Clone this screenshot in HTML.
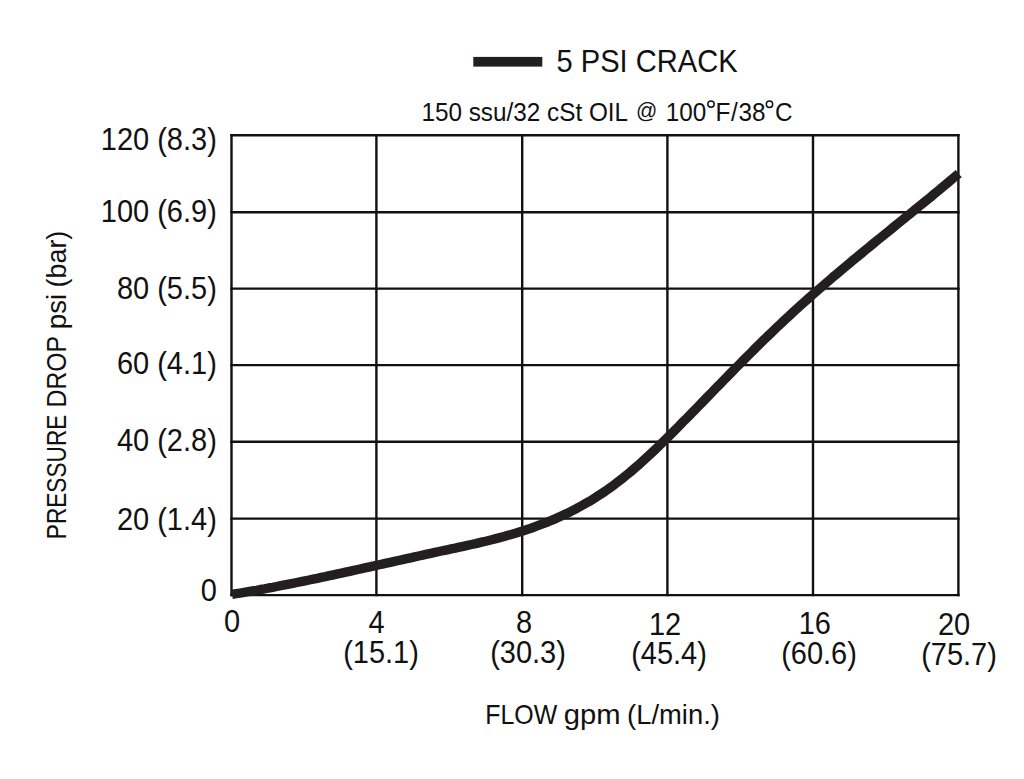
<!DOCTYPE html>
<html><head><meta charset="utf-8"><style>
html,body{margin:0;padding:0;background:#fff;}
svg{display:block;}
text{font-family:"Liberation Sans",sans-serif;fill:#111;}
</style></head><body>
<svg width="1024" height="779" viewBox="0 0 1024 779">
<rect x="0" y="0" width="1024" height="779" fill="#fff"/>
<g stroke="#111" stroke-width="2.4" stroke-linecap="butt">
<line x1="231.5" y1="134.0" x2="231.5" y2="596.3000000000001"/>
<line x1="376.4" y1="134.0" x2="376.4" y2="596.3000000000001"/>
<line x1="522.2" y1="134.0" x2="522.2" y2="596.3000000000001"/>
<line x1="667.4" y1="134.0" x2="667.4" y2="596.3000000000001"/>
<line x1="813.0" y1="134.0" x2="813.0" y2="596.3000000000001"/>
<line x1="958.4" y1="134.0" x2="958.4" y2="596.3000000000001"/>
<line x1="230.3" y1="135.2" x2="959.6" y2="135.2"/>
<line x1="230.3" y1="212.2" x2="959.6" y2="212.2"/>
<line x1="230.3" y1="288.6" x2="959.6" y2="288.6"/>
<line x1="230.3" y1="365.1" x2="959.6" y2="365.1"/>
<line x1="230.3" y1="441.7" x2="959.6" y2="441.7"/>
<line x1="230.3" y1="518.6" x2="959.6" y2="518.6"/>
<line x1="230.3" y1="595.1" x2="959.6" y2="595.1"/>
</g>
<path d="M232.0,594.4 L236.1,593.7 L240.1,593.1 L244.2,592.4 L248.2,591.7 L252.3,591.0 L256.4,590.3 L260.4,589.5 L264.5,588.8 L268.5,588.0 L272.6,587.3 L276.7,586.5 L280.7,585.7 L284.8,584.9 L288.8,584.1 L292.9,583.3 L297.0,582.5 L301.0,581.7 L305.1,580.8 L309.1,580.0 L313.2,579.1 L317.3,578.3 L321.3,577.4 L325.4,576.6 L329.4,575.7 L333.5,574.8 L337.6,573.9 L341.6,573.1 L345.7,572.2 L349.7,571.3 L353.8,570.4 L357.9,569.5 L361.9,568.6 L366.0,567.7 L370.0,566.8 L374.1,565.9 L378.2,565.0 L382.2,564.1 L386.3,563.2 L390.3,562.3 L394.4,561.4 L398.5,560.5 L402.5,559.6 L406.6,558.7 L410.6,557.8 L414.7,556.9 L418.7,556.0 L422.8,555.1 L426.9,554.2 L430.9,553.3 L435.0,552.4 L439.0,551.5 L443.1,550.7 L447.2,549.8 L451.2,548.9 L455.3,548.1 L459.3,547.2 L463.4,546.3 L467.5,545.4 L471.5,544.5 L475.6,543.6 L479.6,542.6 L483.7,541.7 L487.8,540.7 L491.8,539.7 L495.9,538.6 L499.9,537.6 L504.0,536.5 L508.1,535.3 L512.1,534.2 L516.2,533.0 L520.2,531.7 L524.3,530.4 L528.4,529.1 L532.4,527.7 L536.5,526.2 L540.5,524.7 L544.6,523.1 L548.7,521.5 L552.7,519.8 L556.8,518.1 L560.8,516.2 L564.9,514.3 L569.0,512.4 L573.0,510.3 L577.1,508.2 L581.1,506.0 L585.2,503.7 L589.3,501.4 L593.3,498.9 L597.4,496.3 L601.4,493.7 L605.5,491.0 L609.6,488.1 L613.6,485.2 L617.7,482.1 L621.7,479.0 L625.8,475.7 L629.9,472.4 L633.9,468.9 L638.0,465.4 L642.0,461.8 L646.1,458.1 L650.2,454.3 L654.2,450.5 L658.3,446.6 L662.3,442.7 L666.4,438.7 L670.5,434.6 L674.5,430.6 L678.6,426.5 L682.6,422.3 L686.7,418.2 L690.8,414.1 L694.8,409.9 L698.9,405.7 L702.9,401.6 L707.0,397.4 L711.1,393.2 L715.1,389.0 L719.2,384.9 L723.2,380.7 L727.3,376.6 L731.4,372.4 L735.4,368.3 L739.5,364.2 L743.5,360.1 L747.6,356.0 L751.7,352.0 L755.7,347.9 L759.8,343.9 L763.8,339.9 L767.9,336.0 L772.0,332.1 L776.0,328.2 L780.1,324.3 L784.1,320.5 L788.2,316.8 L792.2,313.0 L796.3,309.3 L800.4,305.6 L804.4,302.0 L808.5,298.4 L812.5,294.8 L816.6,291.2 L820.7,287.7 L824.7,284.2 L828.8,280.7 L832.8,277.2 L836.9,273.8 L841.0,270.4 L845.0,267.0 L849.1,263.6 L853.1,260.2 L857.2,256.8 L861.3,253.5 L865.3,250.2 L869.4,246.8 L873.4,243.5 L877.5,240.2 L881.6,236.9 L885.6,233.6 L889.7,230.3 L893.7,227.0 L897.8,223.7 L901.9,220.4 L905.9,217.1 L910.0,213.9 L914.0,210.5 L918.1,207.2 L922.2,203.9 L926.2,200.6 L930.3,197.3 L934.3,193.9 L938.4,190.6 L942.5,187.2 L946.5,183.8 L950.6,180.4 L954.6,177.0 L958.7,173.6" fill="none" stroke="#231f20" stroke-width="9.4" stroke-linejoin="round" stroke-linecap="butt"/>
<rect x="473.3" y="56.9" width="69" height="9.7" fill="#231f20"/>
<g fill="none" stroke="#111" stroke-width="1.45">
<circle cx="711" cy="104.1" r="3.2"/>
<circle cx="769.5" cy="104.25" r="3.2"/>
</g>
<text transform="translate(556.54,71.70) scale(1,1.06)" font-size="29.1">5 PSI CRACK</text>
<text transform="translate(421.45,120.70) scale(1,1.05)" font-size="24.3">150 ssu/32 cSt OIL</text>
<text transform="translate(635.95,118.00) scale(1,1.02)" font-size="21">@</text>
<text transform="translate(665.65,120.70) scale(1,1.05)" font-size="24.3">100</text>
<text transform="translate(715.51,120.70) scale(1,1.05)" font-size="24.3">F</text>
<text transform="translate(731.10,120.70) scale(1,1.05)" font-size="24.3">/</text>
<text transform="translate(738.47,120.70) scale(1,1.05)" font-size="24.3">38</text>
<text transform="translate(775.07,120.70) scale(1,1.05)" font-size="24.3">C</text>
<text transform="translate(216.80,149.70) scale(1,1.05)" font-size="29" text-anchor="end">120 (8.3)</text>
<text transform="translate(216.80,222.20) scale(1,1.05)" font-size="29" text-anchor="end">100 (6.9)</text>
<text transform="translate(216.80,298.70) scale(1,1.05)" font-size="29" text-anchor="end">80 (5.5)</text>
<text transform="translate(216.80,373.70) scale(1,1.05)" font-size="29" text-anchor="end">60 (4.1)</text>
<text transform="translate(216.80,451.30) scale(1,1.05)" font-size="29" text-anchor="end">40 (2.8)</text>
<text transform="translate(216.80,530.30) scale(1,1.05)" font-size="29" text-anchor="end">20 (1.4)</text>
<text transform="translate(216.80,601.30) scale(1,1.05)" font-size="29" text-anchor="end">0</text>
<text transform="translate(232.10,632.10) scale(1,1.05)" font-size="29" text-anchor="middle">0</text>
<text transform="translate(376.60,633.20) scale(1,1.05)" font-size="29" text-anchor="middle">4</text>
<text transform="translate(524.00,633.20) scale(1,1.05)" font-size="29" text-anchor="middle">8</text>
<text transform="translate(665.00,634.60) scale(1,1.05)" font-size="29" text-anchor="middle">12</text>
<text transform="translate(814.75,634.40) scale(1,1.05)" font-size="29" text-anchor="middle">16</text>
<text transform="translate(954.00,634.60) scale(1,1.05)" font-size="29" text-anchor="middle">20</text>
<text transform="translate(381.00,663.00) scale(1,1.05)" font-size="29" text-anchor="middle">(15.1)</text>
<text transform="translate(528.00,662.80) scale(1,1.05)" font-size="29" text-anchor="middle">(30.3)</text>
<text transform="translate(669.00,664.00) scale(1,1.05)" font-size="29" text-anchor="middle">(45.4)</text>
<text transform="translate(819.00,664.30) scale(1,1.05)" font-size="29" text-anchor="middle">(60.6)</text>
<text transform="translate(959.00,664.50) scale(1,1.05)" font-size="29" text-anchor="middle">(75.7)</text>
<text x="485.26" y="723.6" font-size="28" textLength="71.93" lengthAdjust="spacingAndGlyphs">FLOW</text>
<text x="563.87" y="723.6" font-size="28" textLength="56.75" lengthAdjust="spacingAndGlyphs">gpm</text>
<text x="627.10" y="723.6" font-size="28" textLength="92.80" lengthAdjust="spacingAndGlyphs">(L/min.)</text>
<g transform="translate(65.5,0) rotate(-90)"><text x="-539.16" y="0" font-size="28" textLength="124.48" lengthAdjust="spacingAndGlyphs">PRESSURE</text>
<text x="-407.53" y="0" font-size="28" textLength="71.64" lengthAdjust="spacingAndGlyphs">DROP</text>
<text x="-329.19" y="0" font-size="28" textLength="35.46" lengthAdjust="spacingAndGlyphs">psi</text>
<text x="-287.47" y="0" font-size="28" textLength="56.79" lengthAdjust="spacingAndGlyphs">(bar)</text></g>
</svg>
</body></html>
